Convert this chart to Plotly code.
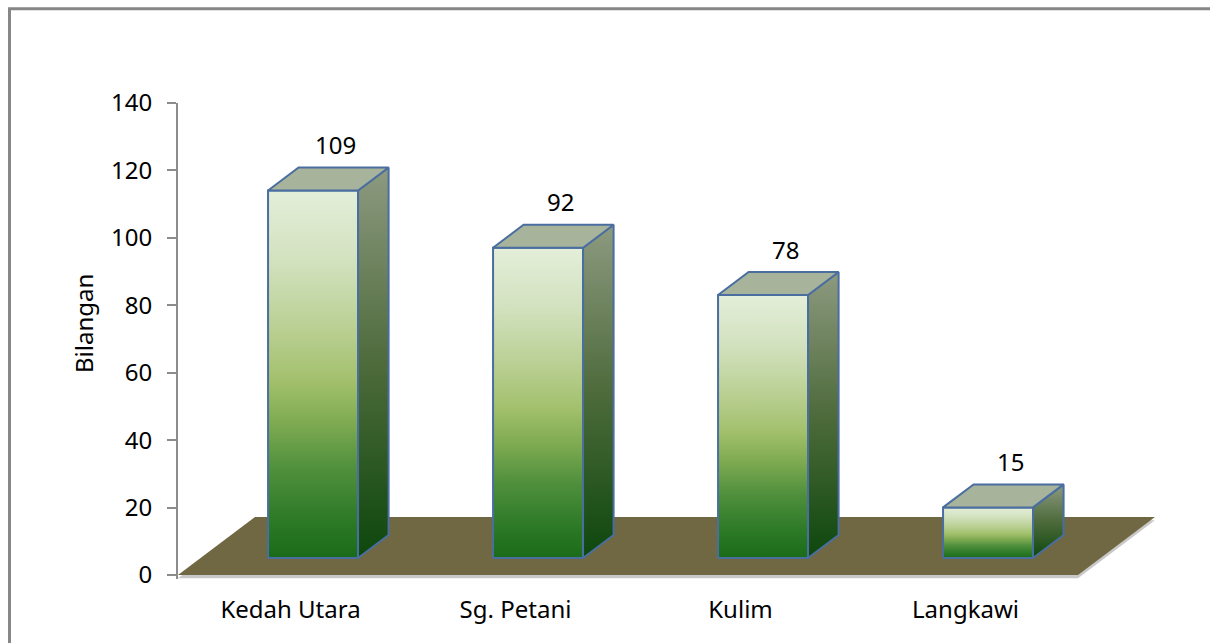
import plotly.graph_objects as go

# ---------------- data ----------------
categories = ["Kedah Utara", "Sg. Petani", "Kulim", "Langkawi"]
values = [109, 92, 78, 15]
y_tickvals = [0, 20, 40, 60, 80, 100, 120, 140]
y_title = "Bilangan"

# ---------------- pseudo-3D geometry (axis units) ----------------
FLOOR_DX = 0.342      # depth of floor along x
FLOOR_DY = 17.2       # depth of floor along y
FRONT_F = 0.293       # bar front plane (fraction of floor depth)
BACK_F = 0.69         # bar back plane (fraction of floor depth)
HALF_W = 0.2          # half bar width
LABEL_GAP = 6.8       # value label offset above bar top

FONT = "Noto Sans, Open Sans, Liberation Sans, sans-serif"
OUTLINE = "#4A6EA0"

front_scale = [[0.0, "#1A6B19"], [0.10, "#2C7926"], [0.24, "#4F8F3C"],
               [0.37, "#7FAB52"], [0.48, "#A2C06C"], [0.62, "#B9CF92"],
               [0.81, "#D2E2BF"], [1.0, "#E4EED9"]]
side_scale = [[0.0, "#0D470D"], [0.5, "#4E6B3C"], [1.0, "#8D9A80"]]
top_color = "#A7B39B"

fig = go.Figure()

n = len(categories)
x_left, x_right = -0.5, n - 0.5

# floor edge (light grey thickness)
fig.add_trace(go.Scatter(
    x=[x_left, x_right, x_right + FLOOR_DX, x_left + FLOOR_DX, x_left],
    y=[-1.0, -1.0, FLOOR_DY - 1.0, FLOOR_DY - 1.0, -1.0],
    fill="toself", fillcolor="#C8C8C8", line=dict(width=0),
    mode="lines", hoverinfo="skip", showlegend=False))
# floor
fig.add_trace(go.Scatter(
    x=[x_left, x_right, x_right + FLOOR_DX, x_left + FLOOR_DX, x_left],
    y=[0, 0, FLOOR_DY, FLOOR_DY, 0],
    fill="toself", fillcolor="#706843", line=dict(width=0),
    mode="lines", hoverinfo="skip", showlegend=False))

ddx = (BACK_F - FRONT_F) * FLOOR_DX
ddy = (BACK_F - FRONT_F) * FLOOR_DY
annotations = []
for i, v in enumerate(values):
    fx0 = i - HALF_W + FRONT_F * FLOOR_DX
    fx1 = i + HALF_W + FRONT_F * FLOOR_DX
    fy0 = FRONT_F * FLOOR_DY
    fy1 = fy0 + v
    # front face
    fig.add_trace(go.Scatter(
        x=[fx0, fx1, fx1, fx0, fx0], y=[fy0, fy0, fy1, fy1, fy0],
        fill="toself", mode="lines",
        fillgradient=dict(type="vertical", colorscale=front_scale),
        line=dict(color=OUTLINE, width=2),
        hoverinfo="skip", showlegend=False))
    # side face
    fig.add_trace(go.Scatter(
        x=[fx1, fx1 + ddx, fx1 + ddx, fx1, fx1],
        y=[fy0, fy0 + ddy, fy1 + ddy, fy1, fy0],
        fill="toself", mode="lines",
        fillgradient=dict(type="vertical", colorscale=side_scale),
        line=dict(color=OUTLINE, width=2),
        hoverinfo="skip", showlegend=False))
    # top face
    fig.add_trace(go.Scatter(
        x=[fx0, fx1, fx1 + ddx, fx0 + ddx, fx0],
        y=[fy1, fy1, fy1 + ddy, fy1 + ddy, fy1],
        fill="toself", fillcolor=top_color, mode="lines",
        line=dict(color=OUTLINE, width=2),
        hoverinfo="skip", showlegend=False))
    annotations.append(dict(
        x=(fx0 + fx1) / 2 + ddx / 2 + 0.03, y=fy1 + ddy + LABEL_GAP,
        xref="x", yref="y", text=str(v), showarrow=False,
        xanchor="center", yanchor="middle",
        font=dict(family=FONT, size=24, color="#000000")))

annotations.append(dict(
    x=-0.095, y=0.5357, xref="paper", yref="paper", text=y_title,
    textangle=-90, showarrow=False, xanchor="center", yanchor="middle",
    font=dict(family=FONT, size=24, color="#000000")))

fig.update_layout(
    width=1210, height=643,
    margin=dict(l=178, r=32, t=103, b=64),
    paper_bgcolor="white", plot_bgcolor="white",
    font=dict(family=FONT, size=24, color="#000000"),
    showlegend=False,
    annotations=annotations,
    shapes=[dict(type="rect", xref="paper", yref="paper",
                 x0=-0.1685, x1=1.1, y0=-0.3, y1=1.198,
                 line=dict(color="#878787", width=3),
                 fillcolor="rgba(0,0,0,0)", layer="below")],
    xaxis=dict(range=[x_left, x_left + 1000 / 225.0],
               tickvals=list(range(n)), ticktext=categories,
               showgrid=False, zeroline=False, showline=False,
               ticks="", ticklabelstandoff=14, fixedrange=True),
    yaxis=dict(range=[-1.2, 140], tickvals=y_tickvals,
               showgrid=False, zeroline=False, showline=True,
               linecolor="#8C8C8C", linewidth=2,
               ticks="outside", ticklen=9, tickwidth=2, tickcolor="#8C8C8C",
               ticklabelstandoff=10, fixedrange=True),
)

fig.write_html("out.html", config={"displayModeBar": False},
               post_script="document.body.style.margin='0';document.body.style.overflow='hidden';")
